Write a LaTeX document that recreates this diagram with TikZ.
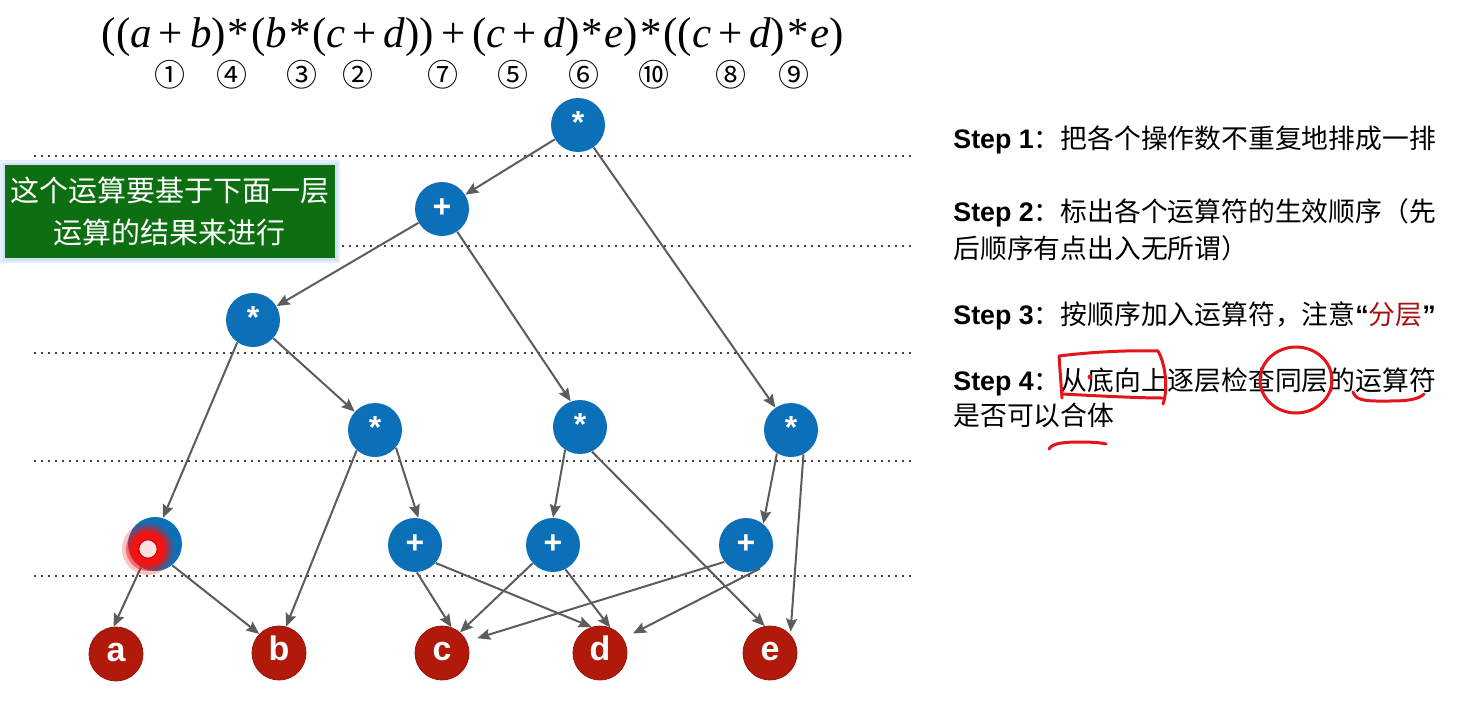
\documentclass[tikz,border=0pt]{standalone}
\usepackage{fontspec}
\newfontfamily\cjk{Noto Sans CJK SC}
\newfontfamily\arialf{Liberation Sans}
\newfontfamily\timesf{Liberation Serif}
\usetikzlibrary{arrows.meta}
\definecolor{nodeblue}{HTML}{0B70B8}
\definecolor{leafred}{HTML}{B11A0B}
\definecolor{edgegray}{HTML}{5C5C5C}
\definecolor{boxgreen}{HTML}{0E6E12}
\definecolor{glowblue}{HTML}{C4DBF7}
\definecolor{annored}{HTML}{E3141B}
\definecolor{textred}{HTML}{A8100E}
\definecolor{dotred}{HTML}{F21414}
\newcommand{\vi}[1]{\textit{#1}}
\newcommand{\pl}{\kern0.16em+\kern0.16em}
\newcommand{\st}{\kern0.045em*\kern0.045em}
\begin{document}
\begin{tikzpicture}[x=0.5pt,y=-0.5pt,
  opnode/.style={circle, fill=nodeblue, minimum size=27pt, inner sep=0pt, text=white,
    font=\arialf\bfseries\fontsize{16}{16}\selectfont, text height=0.85em, text depth=0pt},
  leaf/.style={circle, fill=leafred, draw=leafred!85!black, line width=0.4pt, minimum size=27pt,
    inner sep=0pt, text=white, font=\arialf\bfseries\fontsize{17}{17}\selectfont,
    text height=0.72em, text depth=0pt},
  conn/.style={draw=edgegray, line width=1pt, -{Stealth[length=6.5pt,width=5.5pt,inset=1pt]}},
  sepline/.style={line width=1.1pt, line cap=round, dash pattern=on 0pt off 3.5pt},
  circnum/.style={font=\cjk\fontsize{15.5}{15.5}\selectfont, inner sep=0pt},
  steptext/.style={anchor=base west, inner sep=0pt, font=\fontsize{13.4}{16}\selectfont},
  anno/.style={draw=annored, line width=1.5pt, line cap=round, line join=round},
  greenbox/.style={fill=boxgreen, minimum width=165pt, minimum height=46.5pt, inner sep=0pt,
    text=white, align=center, font=\cjk\fontsize{14.5}{21}\selectfont,
    preaction={draw=glowblue!45, line width=5pt},
    preaction={draw=glowblue!80, line width=2.5pt}}
]
\fill[white] (0,0) rectangle (1461,712);
\useasboundingbox (0,0) rectangle (1461,712);

% level separators
\foreach \yy in {156,246,353,461,576}
  \draw[sepline] (35,\yy) -- (915,\yy);

% formula
\node[inner sep=0pt, font=\timesf\fontsize{21.5}{22}\selectfont] (formula) at (473,37)
  {((\vi{a}\pl\vi{b})\st(\vi{b}\st(\vi{c}\pl\vi{d}))\pl(\vi{c}\pl\vi{d})\st\vi{e})\st((\vi{c}\pl\vi{d})\st\vi{e})};
\node[circnum] (n1) at (170,75) {①};
\node[circnum] (n4) at (232,75) {④};
\node[circnum] (n3) at (302,75) {③};
\node[circnum] (n2) at (358,75) {②};
\node[circnum] (n7) at (443,75) {⑦};
\node[circnum] (n5) at (513,75) {⑤};
\node[circnum] (n6) at (584,75) {⑥};
\node[circnum] (n10) at (654,75) {⑩};
\node[circnum] (n8) at (731,75) {⑧};
\node[circnum] (n9) at (794,75) {⑨};

% operator nodes
\node[opnode] (r)  at (578,125) {*};
\node[opnode] (pA) at (442,209) {+};
\node[opnode] (mL) at (253,320) {*};
\node[opnode] (mM) at (375,430) {*};
\node[opnode] (m3) at (580,427) {*};
\node[opnode] (m4) at (791,430) {*};
\node[opnode] (p1) at (155,544) {+};
\node[opnode] (p2) at (415,545) {+};
\node[opnode] (p3) at (553,545) {+};
\node[opnode] (p4) at (746,545) {+};

% leaves
\node[leaf] (a) at (116,654) {a};
\node[leaf] (b) at (279,653) {b};
\node[leaf] (c) at (442,653) {c};
\node[leaf] (d) at (600,653) {d};
\node[leaf] (e) at (770,653) {e};

% connectors
\draw[conn] (r) -- (pA);
\draw[conn] (r) -- (m4);
\draw[conn] (pA) -- (mL);
\draw[conn] (pA) -- (m3.110);
\draw[conn] (mL.235) -- (p1.73);
\draw[conn] (mL) -- (mM);
\draw[conn] (mM.228) -- (b.75);
\draw[conn] (mM.320) -- (p2.83);
\draw[conn] (m3.237) -- (p3.90);
\draw[conn] (m3.296) -- (e.101);
\draw[conn] (m4.239) -- (p4.51);
\draw[conn, shorten >=1.5pt] (m4.297) -- (e.42);
\draw[conn] (p1.239) -- (a.95);
\draw[conn] (p1.309) -- (b.136);
\draw[conn] (p2.274) -- (c.70);
\draw[conn] (p2.319) -- (d.108);
\draw[conn] (p3.222) -- (c.49);
\draw[conn] (p3.297) -- (d.68);
\draw[conn, shorten >=5.5pt] (p4.218) -- (c.25);
\draw[conn, shorten >=5.5pt] (p4.301) -- (d.32);

% laser pointer dot
\fill[dotred, opacity=0.25] (148,549) circle (13pt);
\fill[dotred, opacity=0.5] (148,549) circle (11pt);
\fill[dotred] (148,549) circle (9pt);
\fill[white!88!red, draw=red!75!black, line width=0.5pt] (148,549) circle (4.6pt);

% green note
\node[greenbox] (note) at (170,211.5) {这个运算要基于下面一层\\运算的结果来进行};

% steps
\node[steptext] (s1) at (953,148) {{\arialf\bfseries Step 1}{\cjk ：把各个操作数不重复地排成一排}};
\node[steptext] (s2) at (953,221) {{\arialf\bfseries Step 2}{\cjk ：标出各个运算符的生效顺序（先}};
\node[steptext] (s2b) at (953,258) {{\cjk 后顺序有点出入无所谓）}};
\node[steptext] (s3) at (953,324) {{\arialf\bfseries Step 3}{\cjk ：按顺序加入运算符，注意}{\arialf\bfseries “}{\cjk\textcolor{textred}{分层}}{\arialf\bfseries ”}};
\node[steptext] (s4) at (953,390) {{\arialf\bfseries Step 4}{\cjk ：从底向上逐层检查同层的运算符}};
\node[steptext] (s4b) at (953,425) {{\cjk 是否可以合体}};

% hand-drawn annotations
\draw[anno] (1062,398) -- (1059,356) .. controls (1090,352) and (1130,350) .. (1158,351)
  .. controls (1166,365) and (1168,390) .. (1163,404);
\draw[anno] (1062,394) .. controls (1100,396) and (1140,398) .. (1162,398);
\draw[anno] (1296,380) ellipse [x radius=18pt, y radius=16.5pt];
\draw[anno] (1353,392) .. controls (1356,402) and (1370,401) .. (1390,401)
  .. controls (1405,401) and (1418,400) .. (1424,394);
\draw[anno] (1049,449) .. controls (1052,443) and (1065,442) .. (1080,442)
  .. controls (1095,442) and (1102,443) .. (1106,444);
\fill[annored] (1090,377) circle (1.2pt);
\end{tikzpicture}
\end{document}
